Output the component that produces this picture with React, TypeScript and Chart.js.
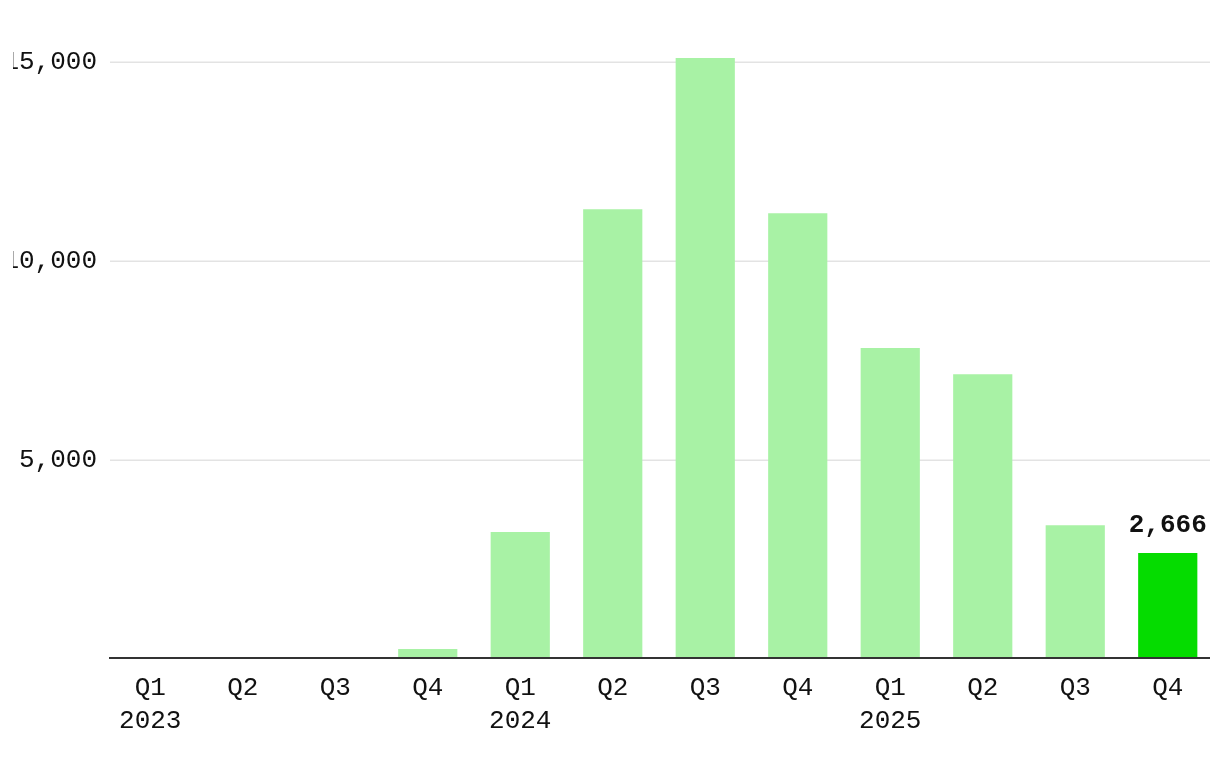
import React, { useEffect, useRef } from "react";
import { Chart, registerables } from "chart.js";

Chart.register(...registerables);

const quarters: string[] = ["Q1", "Q2", "Q3", "Q4", "Q1", "Q2", "Q3", "Q4", "Q1", "Q2", "Q3", "Q4"];
const years: string[] = ["2023", "", "", "", "2024", "", "", "", "2025", "", "", ""];
const values: number[] = [0, 0, 0, 250, 3190, 11305, 15108, 11205, 7815, 7160, 3365, 2666];
const yTicks: number[] = [5000, 10000, 15000];
const highlightIndex = 11;

const FONT = "'Liberation Mono', 'DejaVu Sans Mono', monospace";

export default function App() {
  const ref = useRef<HTMLCanvasElement | null>(null);

  useEffect(() => {
    if (!ref.current) return;
    const labels = quarters.map((q, i) => (years[i] ? [q, years[i]] : q));
    const colors = values.map((_, i) => (i === highlightIndex ? "#05dc00" : "#a8f2a5"));

    const gridAndAxis = {
      id: "gridAndAxis",
      beforeDatasetsDraw(chart: any) {
        const ctx = chart.ctx;
        const y = chart.scales.y;
        const left = chart.chartArea.left + 6;
        const right = chart.chartArea.right - 4;
        ctx.save();
        ctx.strokeStyle = "#e3e3e3";
        ctx.lineWidth = 1.5;
        yTicks.forEach((v) => {
          const py = Math.round(y.getPixelForValue(v)) + 0.25;
          ctx.beginPath();
          ctx.moveTo(left, py);
          ctx.lineTo(right, py);
          ctx.stroke();
        });
        ctx.restore();
      },
      afterDatasetsDraw(chart: any) {
        const ctx = chart.ctx;
        const y = chart.scales.y;
        const left = chart.chartArea.left + 5;
        const right = chart.chartArea.right - 4;
        const py = y.getPixelForValue(0) - 1;
        ctx.save();
        ctx.strokeStyle = "#333333";
        ctx.lineWidth = 2;
        ctx.beginPath();
        ctx.moveTo(left, py);
        ctx.lineTo(right, py);
        ctx.stroke();

        const meta = chart.getDatasetMeta(0);
        const bar = meta.data[highlightIndex];
        if (bar) {
          ctx.font = `bold 26px ${FONT}`;
          ctx.fillStyle = "#111111";
          ctx.textAlign = "center";
          ctx.textBaseline = "alphabetic";
          ctx.fillText(values[highlightIndex].toLocaleString("en-US"), bar.x, bar.y - 21);
        }
        ctx.restore();
      },
    };

    const chart = new Chart(ref.current, {
      type: "bar",
      data: {
        labels,
        datasets: [
          {
            data: values,
            backgroundColor: colors,
            borderWidth: 0,
            barPercentage: 0.64,
            categoryPercentage: 1,
          },
        ],
      },
      options: {
        animation: false,
        responsive: false,
        maintainAspectRatio: false,
        layout: { padding: { top: 58, right: 6, left: 0, bottom: 0 } },
        plugins: { legend: { display: false }, tooltip: { enabled: false } },
        scales: {
          x: {
            grid: { display: false, drawTicks: false },
            border: { display: false },
            ticks: {
              color: "#111111",
              font: { family: FONT, size: 26, lineHeight: 1.25 },
              padding: 13,
              maxRotation: 0,
              autoSkip: false,
            },
            afterFit: (scale: any) => {
              scale.height = 101;
            },
          },
          y: {
            min: 0,
            max: 15108,
            grid: { display: false, drawTicks: false },
            border: { display: false },
            ticks: {
              color: "#111111",
              font: { family: FONT, size: 26 },
              padding: 7,
              callback: (v: any) => Number(v).toLocaleString("en-US"),
            },
            afterBuildTicks: (scale: any) => {
              scale.ticks = yTicks.map((v) => ({ value: v }));
            },
            afterFit: (scale: any) => {
              scale.width = 104;
            },
          },
        },
      },
      plugins: [gridAndAxis],
    });
    return () => chart.destroy();
  }, []);

  return (
    <div style={{ position: "absolute", left: 0, top: 0, width: 1220, height: 760 }}>
      <canvas
        ref={ref}
        width={1220}
        height={760}
        style={{ display: "block", clipPath: "inset(0 0 0 13px)" }}
      />
    </div>
  );
}
